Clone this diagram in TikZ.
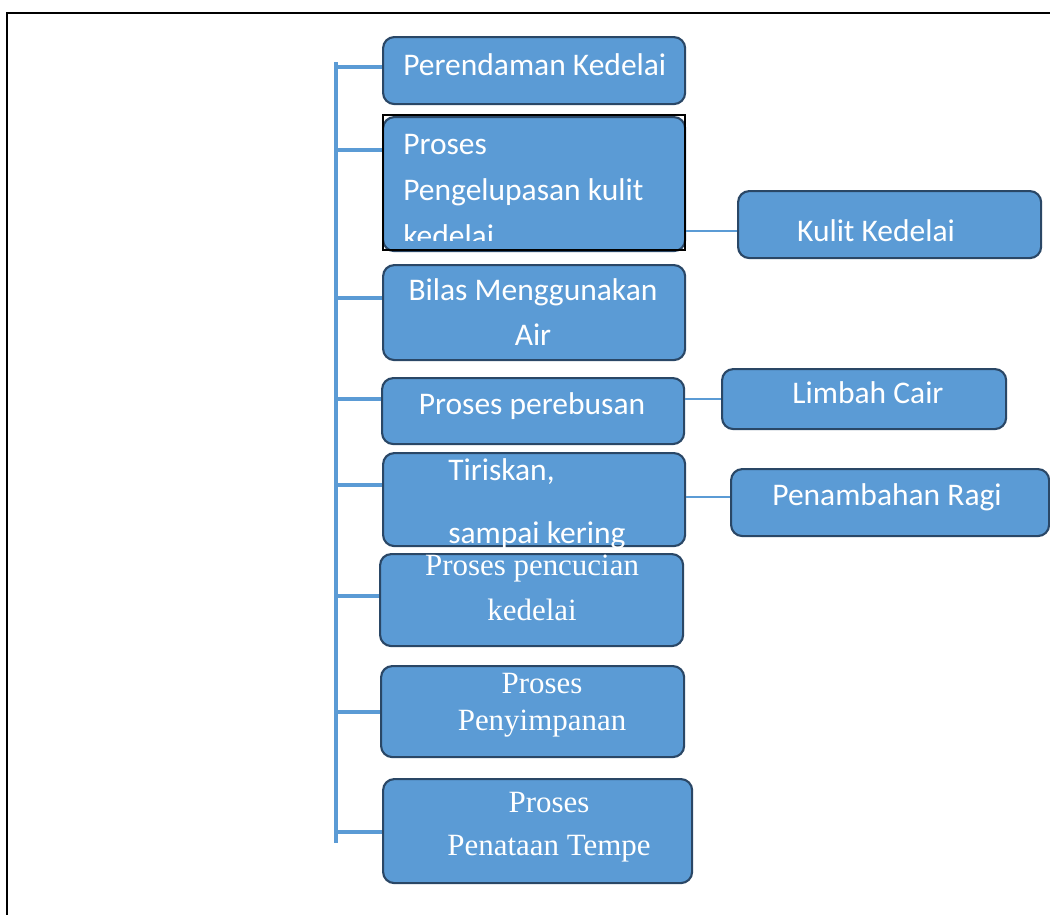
\documentclass[tikz,border=0pt]{standalone}
\usepackage{fontspec}
\newfontfamily\calibri{Carlito}
\newfontfamily\timesrm{Liberation Serif}
\definecolor{boxblue}{HTML}{5B9BD5}
\definecolor{boxedge}{HTML}{2A4766}
\definecolor{lineblue}{HTML}{5B9BD5}

\begin{document}
\begin{tikzpicture}[x=0.025cm, y=-0.025cm,
    box/.style={draw=boxedge, fill=boxblue, line width=1.5pt, rounded corners=8pt,
      anchor=north west, inner sep=0pt, minimum width=7.55cm},
    cal/.style={text=white, font=\calibri\fontsize{22.4}{31}\selectfont, inner sep=0pt},
    tms/.style={text=white, font=\timesrm\fontsize{22}{32}\selectfont, inner sep=0pt},
    link/.style={draw=lineblue, line width=2.2pt},
    side/.style={draw=lineblue, line width=1.4pt}]
    \useasboundingbox (0,0) rectangle (1050,915);
    \draw[line width=1.4pt] (1050,13) -- (7,13) -- (7,915);

    \node[box, minimum height=1.675cm] (b1) at (382,36) {};
    \node[cal, anchor=base west] (t1) at (403,75) {Perendaman Kedelai};

    \node[box, minimum height=3.35cm] (b2) at (382,116) {};
    \begin{scope}
      \clip (382,116) rectangle (684,240);
      \node[cal, anchor=base west, align=left] (t2) at (403,246) {Proses\\[1.5pt]Pengelupasan kulit\\[1.5pt]kedelai};
    \end{scope}
    \draw[line width=1.1pt] (383,115) rectangle (685,250);

    \node[box, minimum height=2.375cm] (b3) at (382,264) {};
    \node[cal, anchor=base, align=center] (t3) at (533,345) {Bilas Menggunakan\\[1pt]Air};

    \node[box, minimum height=1.65cm] (b4) at (381,377) {};
    \node[cal, anchor=base] (t4) at (532,414) {Proses perebusan};

    \node[box, minimum height=2.325cm] (b5) at (382,452) {};
    \node[cal, anchor=base west, align=left] (t5) at (448,543) {Tiriskan,\\[13.5pt]sampai kering};

    \node[box, minimum width=7.575cm, minimum height=2.3cm] (b6) at (379,553) {};
    \node[tms, anchor=base, align=center] (t6) at (532,620) {Proses pencucian\\kedelai};

    \node[box, minimum width=7.575cm, minimum height=2.275cm] (b7) at (380,665) {};
    \node[tms, anchor=base, align=center] (t7) at (542,730) {Proses\\[-6pt]Penyimpanan};

    \node[box, minimum width=7.725cm, minimum height=2.6cm] (b8) at (382,778) {};
    \node[tms, anchor=base, align=center] (t8) at (549,855) {Proses\\[-2pt]Penataan Tempe};

    \node[box, minimum width=7.575cm, minimum height=1.675cm] (kulit) at (737,190) {};
    \node[cal, anchor=base] (tk) at (876,241) {Kulit Kedelai};
    \node[box, minimum width=7.1cm, minimum height=1.5cm] (limbah) at (721,368) {};
    \node[cal, anchor=base] (tl) at (868,403) {Limbah Cair};
    \node[box, minimum width=7.95cm, minimum height=1.675cm] (ragi) at (730,468) {};
    \node[cal, anchor=base] (tr) at (887,505) {Penambahan Ragi};

    \coordinate (top) at (336,62);
    \coordinate (bottom) at (336,843);
    \draw[link] (top) -- (bottom);
    \foreach \n/\y in {1/67,2/150,3/298,4/399,5/485,6/596,7/712,8/832}{
      \coordinate (j\n) at (336,\y);
      \draw[link] (j\n) -- (j\n -| b\n.west);
    }
    \foreach \s/\y/\a/\b in {1/231/b2/kulit,2/399/b4/limbah,3/497/b5/ragi}{
      \coordinate (s\s) at (700,\y);
      \draw[side] (\a.east |- s\s) -- (\b.west |- s\s);
    }
\end{tikzpicture}
\end{document}
